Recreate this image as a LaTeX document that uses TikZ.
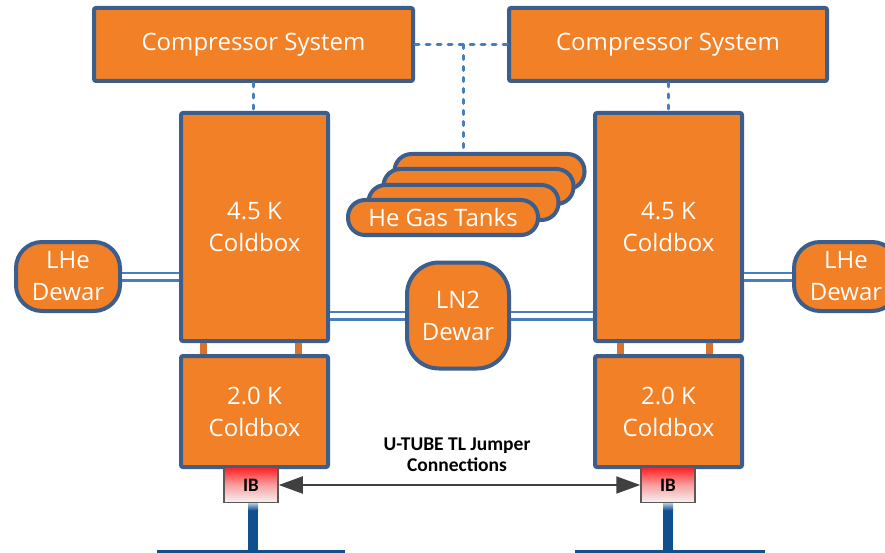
\documentclass[tikz,border=0pt]{standalone}
\usepackage{fontspec}
\setmainfont{Open Sans}
\newfontfamily\lblfont{Carlito}
\usetikzlibrary{arrows.meta}
\definecolor{boxorange}{HTML}{F28026}
\definecolor{boxedge}{HTML}{3B5E8C}
\definecolor{pipeblue}{HTML}{4A7EBB}
\definecolor{linkorange}{HTML}{D9722A}
\definecolor{feedblue}{HTML}{11508F}
\definecolor{arrowgray}{HTML}{404040}
\definecolor{ibred}{HTML}{FF2020}
\definecolor{ibgray}{HTML}{F4F4F4}
\begin{document}
\begin{tikzpicture}[x=1pt,y=-1pt,
 unit/.style={draw=boxedge, fill=boxorange, line width=4pt, rounded corners=2pt, inner sep=0pt,
   text=white, font=\fontsize{24}{32}\selectfont, align=center},
 dewar/.style={unit, rounded corners=26pt},
 tank/.style={unit, rounded corners=17pt, minimum width=190pt, minimum height=35pt},
 ib/.style={draw=gray!70!black, line width=1.5pt, top color=ibred, bottom color=ibgray,
   middle color=ibred!40!ibgray, font=\lblfont\bfseries\fontsize{19}{21}\selectfont,
   minimum width=54pt, minimum height=35pt, inner sep=0pt},
 pipe/.style={draw=pipeblue, line width=2.5pt, double=white, double distance=5pt},
 gasline/.style={draw=pipeblue, line width=3pt, line cap=round, dash pattern=on 4pt off 7pt},
 link/.style={draw=linkorange, line width=7pt},
 feed/.style={draw=feedblue, line width=10pt},
 jumper/.style={draw=arrowgray, line width=2pt,
   {Triangle[length=24pt,width=17pt]}-{Triangle[length=24pt,width=17pt]}}
]
\useasboundingbox (0,0) rectangle (885,553);
\clip (0,0) rectangle (885,553);

% compressors
\node[unit, minimum width=319pt, minimum height=73pt] (compL) at (253.5,44.5) {Compressor System};
\node[unit, minimum width=318pt, minimum height=73pt] (compR) at (668,44.5) {Compressor System};

% coldboxes
\node[unit, minimum width=147pt, minimum height=228pt] (cb45l) at (254.5,227) {4.5 K\\Coldbox};
\node[unit, minimum width=147pt, minimum height=228pt] (cb45r) at (668.5,227) {4.5 K\\Coldbox};
\node[unit, minimum width=147pt, minimum height=111pt] (cb20l) at (254.5,411.5) {2.0 K\\Coldbox};
\node[unit, minimum width=147pt, minimum height=111pt] (cb20r) at (668.5,411.5) {2.0 K\\Coldbox};

% dewars
\node[dewar, minimum width=104pt, minimum height=69pt] (lheL) at (68,276.5) {LHe\\Dewar};
\node[dewar, minimum width=104pt, minimum height=69pt] (lheR) at (846,276.5) {LHe\\Dewar};
\node[unit, rounded corners=32pt, minimum width=102pt, minimum height=106pt] (ln2) at (458,315.5) {LN2\\Dewar};

% tanks
\node[tank] (tank4) at (489.5,171.5) {};
\node[tank] (tank3) at (478.5,186.5) {};
\node[tank] (tank2) at (463.5,202.5) {};
\node[tank] (tank1) at (443,217.5) {He Gas Tanks};

% gas lines
\draw[gasline] (compL.south) -- (compL.south |- cb45l.north);
\draw[gasline] (compR.south) -- (compR.south |- cb45r.north);
\draw[gasline] (compL.east) -- (compR.west);
\coordinate (tee) at (463,44.5);
\draw[gasline] (tee) -- (tee |- tank4.north);

% pipes
\draw[pipe] (lheL.east) -- (lheL.east -| cb45l.west);
\draw[pipe] (ln2.west) -- (ln2.west -| cb45l.east);
\draw[pipe] (ln2.east) -- (ln2.east -| cb45r.west);
\draw[pipe] (lheR.west) -- (lheR.west -| cb45r.east);

% links between coldboxes
\draw[link] ([xshift=-51.5pt]cb45l.south) -- ([xshift=-51.5pt]cb20l.north);
\draw[link] ([xshift=43.5pt]cb45l.south) -- ([xshift=43.5pt]cb20l.north);
\draw[link] ([xshift=-48.5pt]cb45r.south) -- ([xshift=-48.5pt]cb20r.north);
\draw[link] ([xshift=40.5pt]cb45r.south) -- ([xshift=40.5pt]cb20r.north);

% IB boxes
\node[ib] (ibl) at (251,485) {IB};
\node[ib] (ibr) at (668,485) {IB};

% feeds
\coordinate (botl) at (253,553);
\coordinate (botr) at (668,553);
\draw[feed] ([xshift=2pt]ibl.south) -- (botl);
\draw[feed] (ibr.south) -- (botr);
\shade[top color=pipeblue!45!white, bottom color=feedblue]
  ([xshift=-3pt]ibl.south) rectangle ([xshift=7pt,yshift=-7pt]ibl.south);
\shade[top color=pipeblue!45!white, bottom color=feedblue]
  ([xshift=-5pt]ibr.south) rectangle ([xshift=5pt,yshift=-7pt]ibr.south);
\coordinate (bl1) at (157,552);
\coordinate (bl2) at (345,552);
\coordinate (br1) at (575,552);
\coordinate (br2) at (765,552);
\draw[draw=feedblue, line width=4pt] (bl1) -- (bl2);
\draw[draw=feedblue, line width=4pt] (br1) -- (br2);

% jumper
\draw[jumper] (ibl.east) -- (ibr.west);
\node[font=\lblfont\bfseries\fontsize{19.5}{21}\selectfont, align=center] (lbl) at (457,455) {U-TUBE TL Jumper\\Connections};
\end{tikzpicture}
\end{document}
